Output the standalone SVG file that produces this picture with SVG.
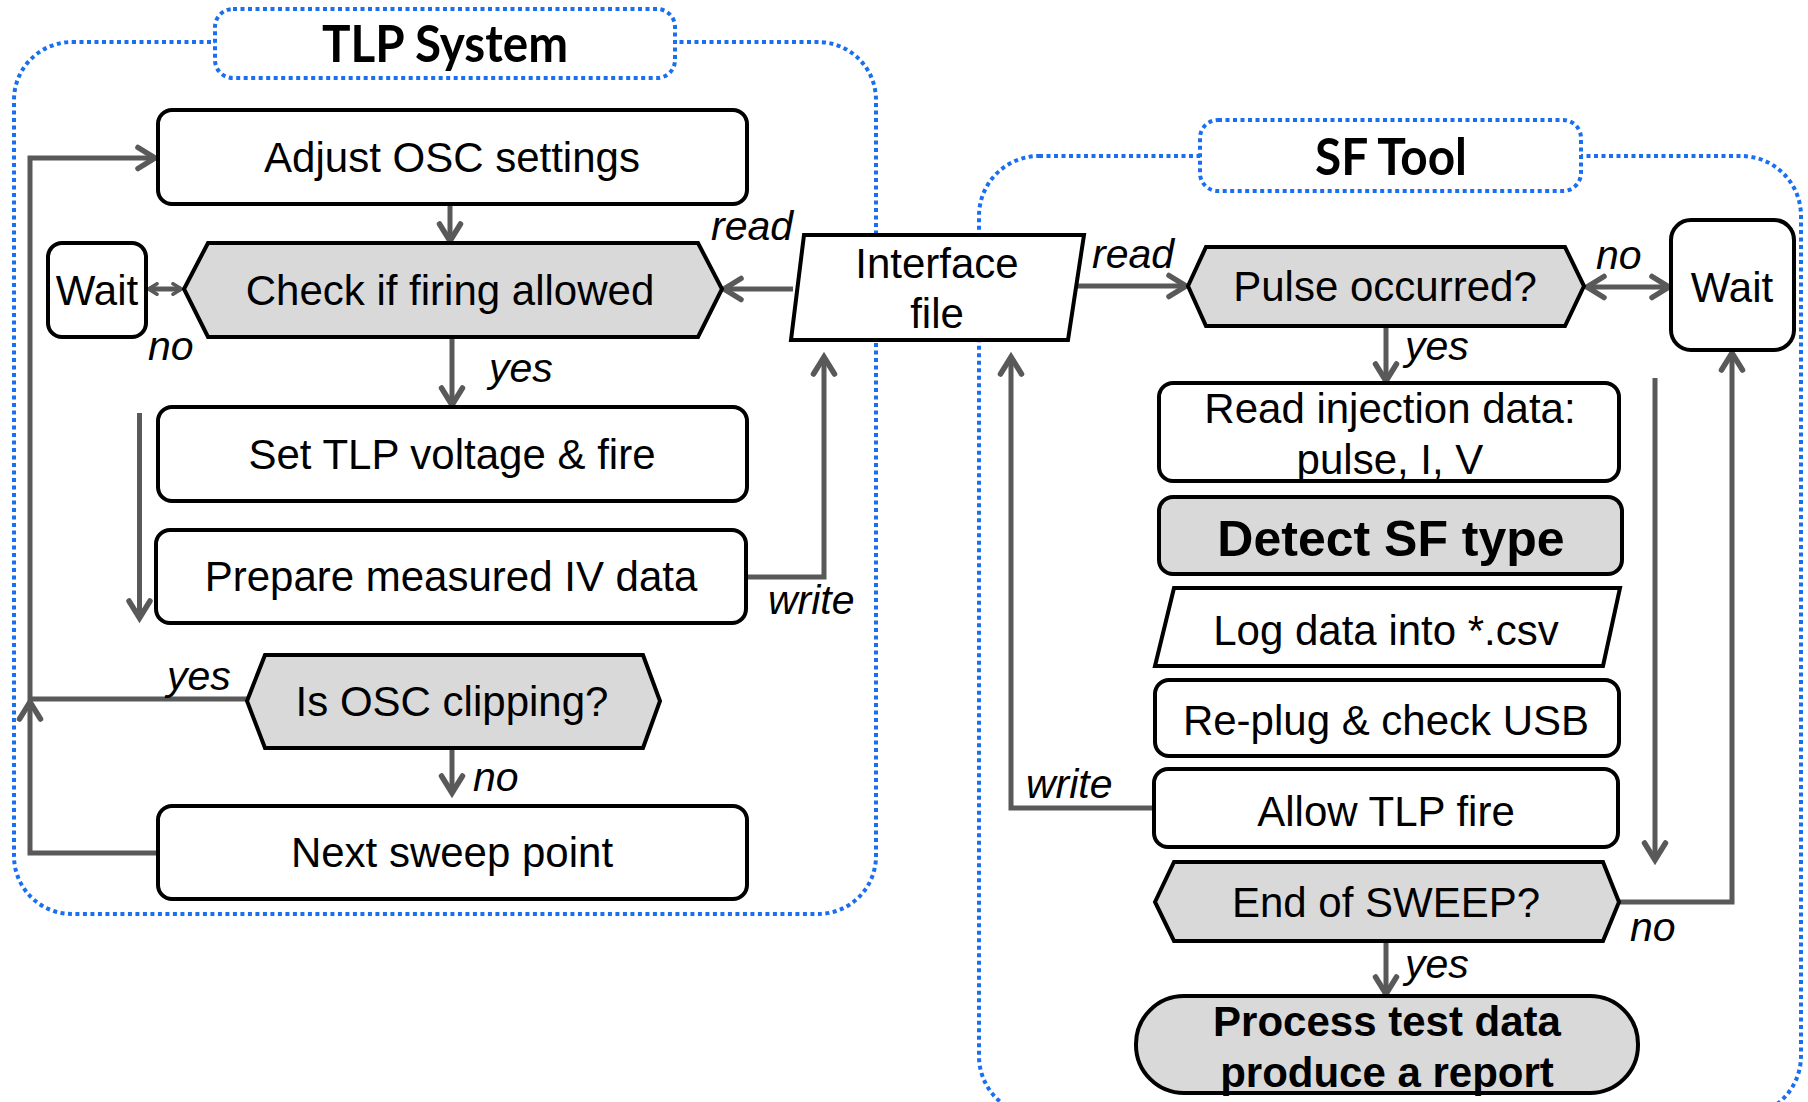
<svg xmlns="http://www.w3.org/2000/svg" width="1808" height="1102" viewBox="0 0 1808 1102">
<style>
.cont{fill:none;stroke:#1a6ff0;stroke-width:4;stroke-dasharray:4 3.5}
.hdr{fill:#fff;stroke:#1a6ff0;stroke-width:4;stroke-dasharray:4 3.5}
.box{fill:#fff;stroke:#000;stroke-width:4}
.gbox{fill:#d9d9d9;stroke:#000;stroke-width:4}
.t{font-family:"Liberation Sans",Arial,sans-serif;font-size:42px;fill:#000;text-anchor:middle}
.b{font-weight:bold}
.h{font-family:Lato,"Liberation Sans",sans-serif;font-weight:bold;font-size:52px;fill:#000;text-anchor:middle}
.lab{font-family:"Liberation Sans",Arial,sans-serif;font-size:41px;font-style:italic;fill:#000}
.c{fill:none;stroke:#595959;stroke-width:5}
</style>
<defs>
<marker id="ah" viewBox="0 0 28 28" markerWidth="28" markerHeight="28" refX="21" refY="14" orient="auto-start-reverse" markerUnits="userSpaceOnUse">
<path d="M5,3.5 L22,14 L5,24.5" fill="none" stroke="#595959" stroke-width="5.5" stroke-linecap="round"/>
</marker>
<marker id="ahs" viewBox="0 0 28 28" markerWidth="14" markerHeight="14" refX="21" refY="14" orient="auto-start-reverse" markerUnits="userSpaceOnUse">
<path d="M5,3.5 L22,14 L5,24.5" fill="none" stroke="#595959" stroke-width="7" stroke-linecap="round"/>
</marker>
</defs>
<rect width="1808" height="1102" fill="#fff"/>
<g id="containers">
<rect class="cont" x="14" y="42" width="862" height="872" rx="58"/>
<rect class="cont" x="979" y="156" width="822" height="960" rx="60"/>
</g>
<g id="hdr-tlp"><rect class="hdr" x="215" y="9" width="460" height="69" rx="18"/><text class="h" x="445" y="62" textLength="246" lengthAdjust="spacingAndGlyphs">TLP System</text></g>
<g id="hdr-sf"><rect class="hdr" x="1200" y="120" width="381" height="71" rx="18"/><text class="h" x="1391" y="175" textLength="152" lengthAdjust="spacingAndGlyphs">SF Tool</text></g>
<g id="connectors">
<line class="c" x1="450" y1="204" x2="450" y2="240" marker-end="url(#ah)"/>
<line class="c" x1="149" y1="289" x2="181" y2="289" marker-start="url(#ahs)" marker-end="url(#ahs)"/>
<line class="c" x1="452" y1="337" x2="452" y2="404" marker-end="url(#ah)"/>
<line class="c" x1="139.5" y1="413" x2="139.5" y2="617" marker-end="url(#ah)"/>
<polyline class="c" points="247,699 30,699 30,158 154,158" marker-end="url(#ah)"/>
<line class="c" x1="452" y1="748" x2="452" y2="792" marker-end="url(#ah)"/>
<polyline class="c" points="158,853 30,853 30,703" marker-end="url(#ah)"/>
<line class="c" x1="793" y1="289" x2="725" y2="289" marker-end="url(#ah)"/>
<polyline class="c" points="746,577 824,577 824,358" marker-end="url(#ah)"/>
<line class="c" x1="1076" y1="286" x2="1185" y2="286" marker-end="url(#ah)"/>
<line class="c" x1="1588" y1="287" x2="1668" y2="287" marker-start="url(#ah)" marker-end="url(#ah)"/>
<line class="c" x1="1386" y1="326" x2="1386" y2="380" marker-end="url(#ah)"/>
<polyline class="c" points="1154,808 1011,808 1011,358" marker-end="url(#ah)"/>
<polyline class="c" points="1619,902 1732,902 1732,354" marker-end="url(#ah)"/>
<line class="c" x1="1655" y1="378" x2="1655" y2="859" marker-end="url(#ah)"/>
<line class="c" x1="1386" y1="941" x2="1386" y2="993" marker-end="url(#ah)"/>
</g>
<g id="labels">
<text class="lab" x="148" y="360">no</text>
<text class="lab" x="489" y="382">yes</text>
<text class="lab" x="167" y="690">yes</text>
<text class="lab" x="473" y="791">no</text>
<text class="lab" x="711" y="240">read</text>
<text class="lab" x="768" y="614">write</text>
<text class="lab" x="1092" y="268">read</text>
<text class="lab" x="1596" y="269">no</text>
<text class="lab" x="1405" y="360">yes</text>
<text class="lab" x="1026" y="798">write</text>
<text class="lab" x="1630" y="941">no</text>
<text class="lab" x="1405" y="978">yes</text>
</g>
<g id="n-adjust"><rect class="box" x="158" y="110" width="589" height="94" rx="14"/><text class="t" x="452" y="172">Adjust OSC settings</text></g>
<g id="n-check"><polygon class="gbox" points="184,289 208,243 698,243 722,289 698,337 208,337"/><text class="t" x="450" y="305">Check if firing allowed</text></g>
<g id="n-wait1"><rect class="box" x="48" y="243" width="98" height="94" rx="14"/><text class="t" x="97" y="305">Wait</text></g>
<g id="n-set"><rect class="box" x="158" y="407" width="589" height="94" rx="14"/><text class="t" x="452" y="469">Set TLP voltage &amp; fire</text></g>
<g id="n-prepare"><rect class="box" x="156" y="530" width="590" height="93" rx="14"/><text class="t" x="451" y="591">Prepare measured IV data</text></g>
<g id="n-clip"><polygon class="gbox" points="247,701 265,655 643,655 660,701 643,748 265,748"/><text class="t" x="452" y="716">Is OSC clipping?</text></g>
<g id="n-next"><rect class="box" x="158" y="806" width="589" height="93" rx="14"/><text class="t" x="452" y="867">Next sweep point</text></g>
<g id="n-iface"><polygon class="box" points="804,235 1084,235 1068,340 791,340"/><text class="t" x="937" y="278">Interface</text><text class="t" x="937" y="328">file</text></g>
<g id="n-pulse"><polygon class="gbox" points="1188,286 1206,247 1565,247 1584,286 1565,326 1206,326"/><text class="t" x="1385" y="301">Pulse occurred?</text></g>
<g id="n-wait2"><rect class="box" x="1671" y="220" width="123" height="130" rx="20"/><text class="t" x="1732" y="302">Wait</text></g>
<g id="n-read"><rect class="box" x="1159" y="383" width="460" height="98" rx="14"/><text class="t" x="1390" y="423">Read injection data:</text><text class="t" x="1390" y="474">pulse, I, V</text></g>
<g id="n-detect"><rect class="gbox" x="1159" y="497" width="463" height="77" rx="14"/><text class="t b" x="1391" y="556" style="font-size:50px">Detect SF type</text></g>
<g id="n-log"><polygon class="box" points="1174,588 1620,588 1603,666 1155,666"/><text class="t" x="1386" y="645">Log data into *.csv</text></g>
<g id="n-replug"><rect class="box" x="1155" y="680" width="464" height="76" rx="14"/><text class="t" x="1386" y="735">Re-plug &amp; check USB</text></g>
<g id="n-allow"><rect class="box" x="1154" y="769" width="464" height="78" rx="14"/><text class="t" x="1386" y="826">Allow TLP fire</text></g>
<g id="n-end"><polygon class="gbox" points="1155,902 1174,862 1603,862 1619,902 1603,941 1174,941"/><text class="t" x="1386" y="917">End of SWEEP?</text></g>
<g id="n-process"><rect class="gbox" x="1136" y="996" width="502" height="97" rx="48"/><text class="t b" x="1387" y="1036">Process test data</text><text class="t b" x="1387" y="1087">produce a report</text></g>
</svg>
